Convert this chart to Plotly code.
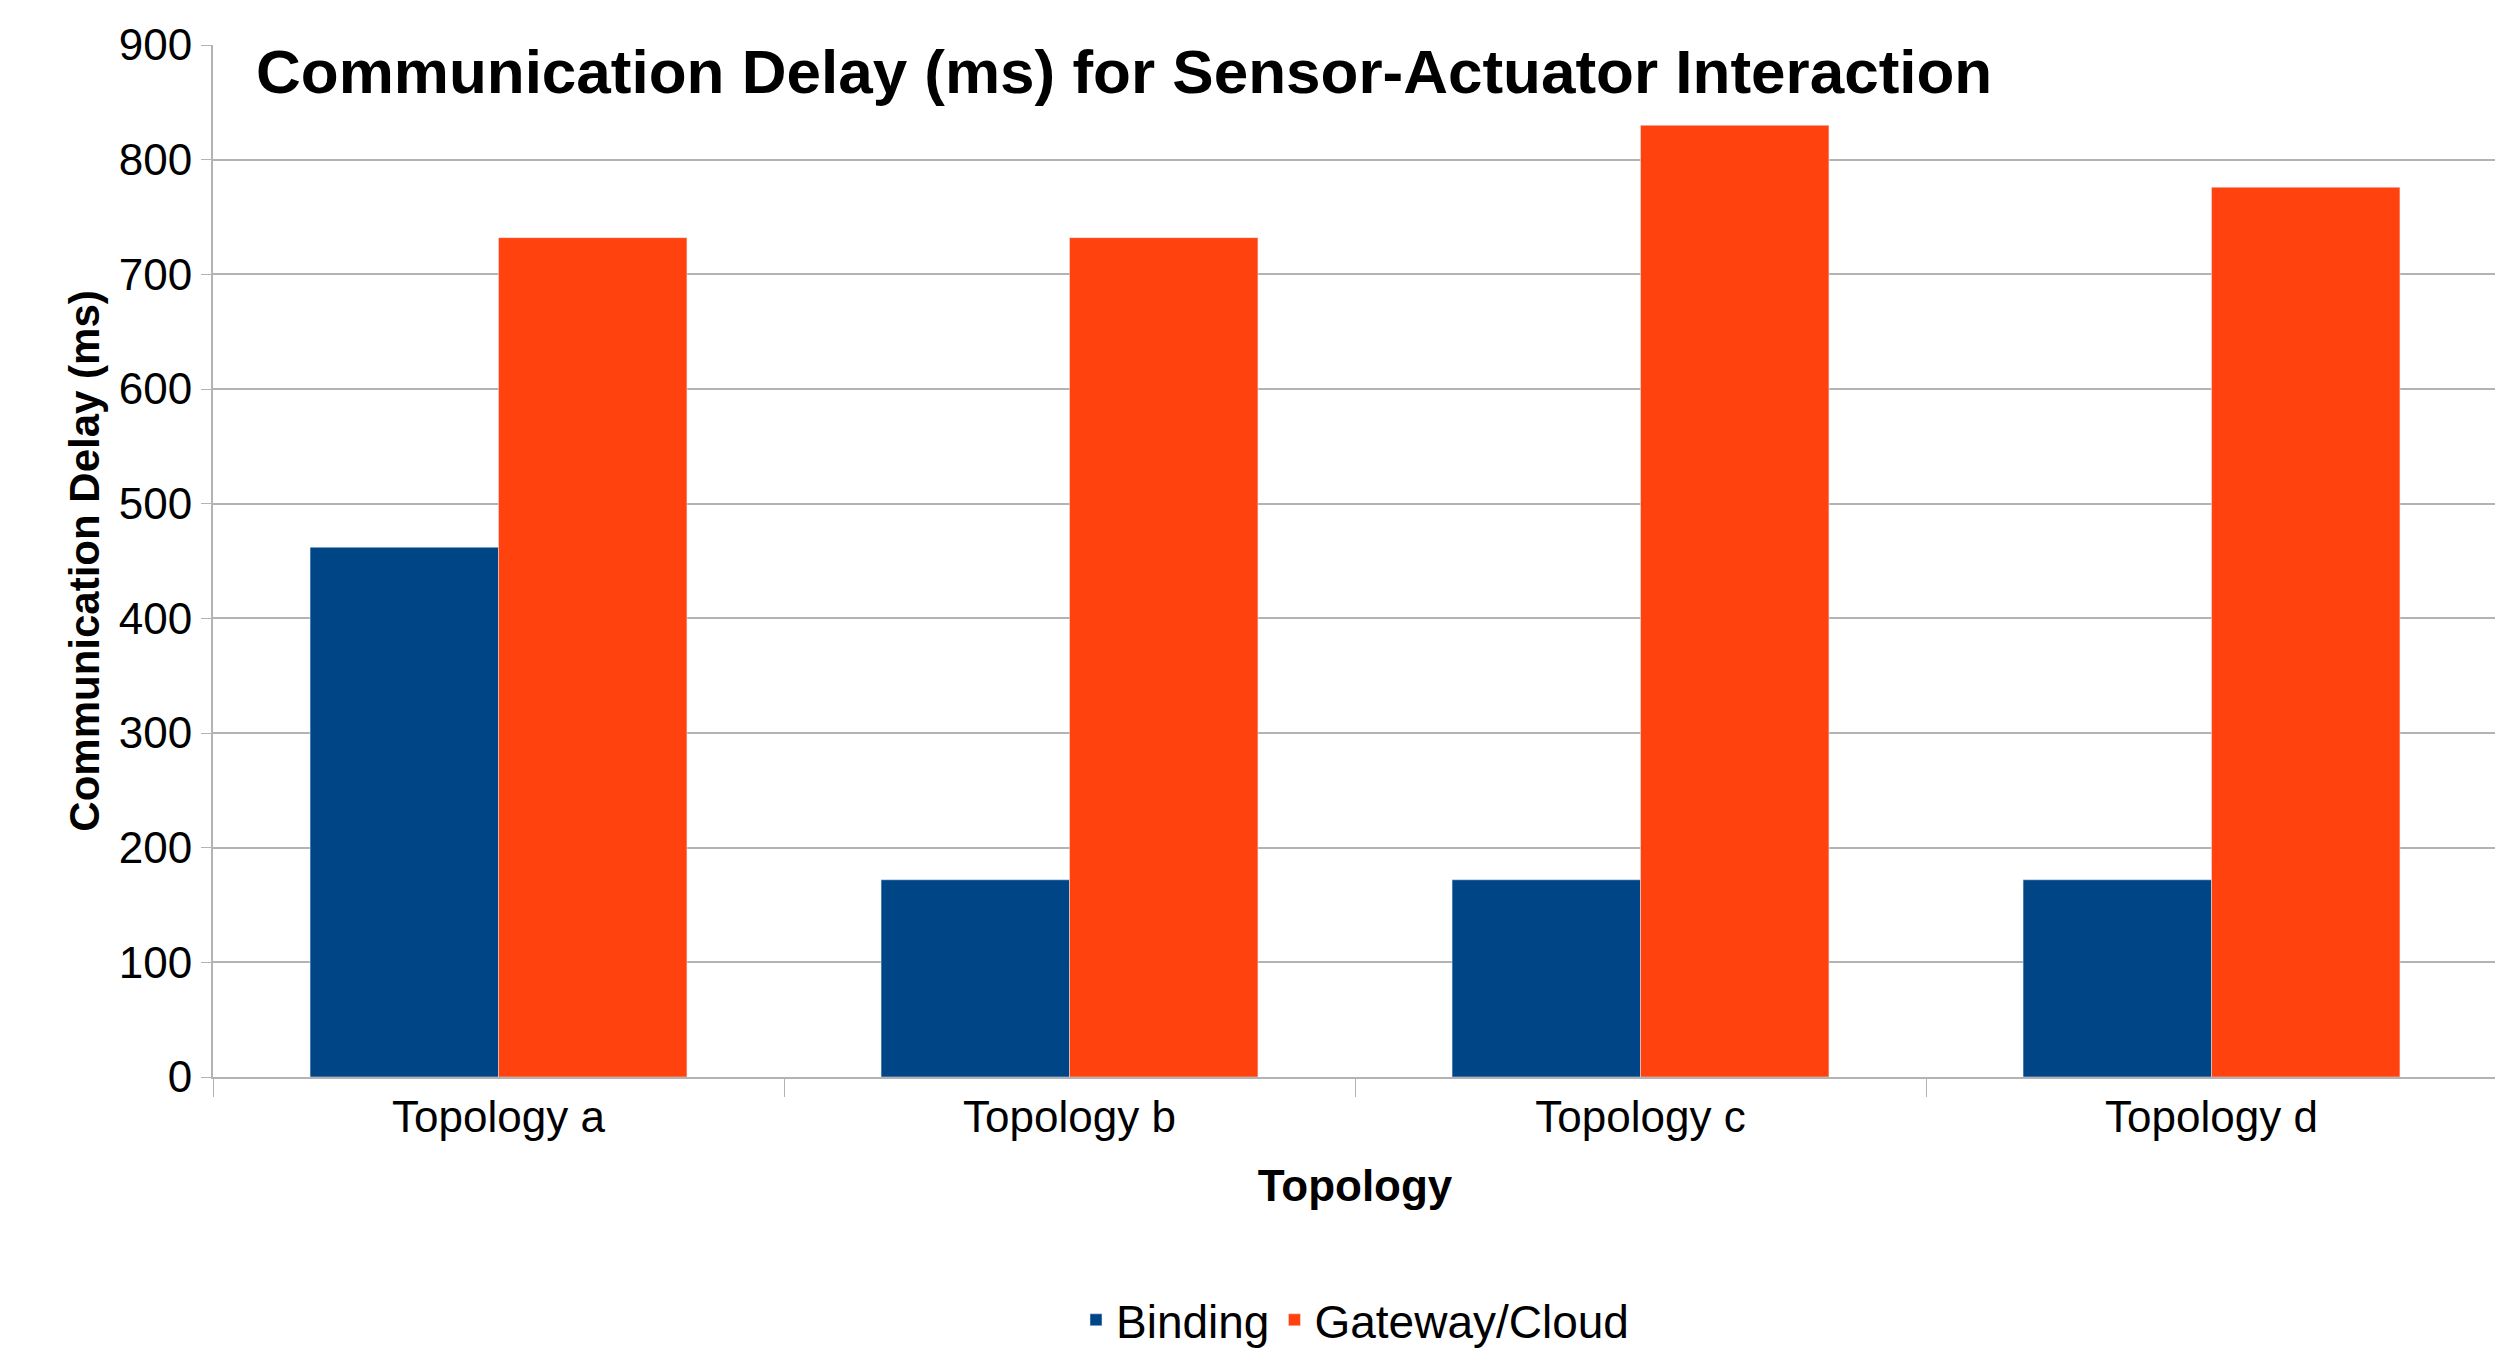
import plotly.graph_objects as go

categories = ["Topology a", "Topology b", "Topology c", "Topology d"]
binding = [462, 172, 172, 172]
gateway = [732, 732, 830, 776]

fig = go.Figure()
fig.add_trace(go.Bar(x=categories, y=binding, name="Binding", marker_color="#004586"))
fig.add_trace(go.Bar(x=categories, y=gateway, name="Gateway/Cloud", marker_color="#FF420E"))

fig.update_layout(
    width=2503, height=1360,
    margin=dict(l=205, r=13, t=35, b=259),
    plot_bgcolor="white", paper_bgcolor="white",
    font=dict(family="Liberation Sans, Arial", color="black"),
    barmode="group", bargap=0.34, bargroupgap=0,
    showlegend=True,
    legend=dict(orientation="h", x=0.5, xanchor="center", y=-0.2, yanchor="top",
                font=dict(size=46), itemwidth=30, tracegroupgap=0),
)
fig.add_annotation(
    text="<b>Communication Delay (ms) for Sensor-Actuator Interaction</b>",
    xref="paper", yref="paper", x=0.018, y=1.01, xanchor="left", yanchor="top",
    showarrow=False, font=dict(size=62, color="black"),
)
fig.update_xaxes(
    title=dict(text="<b>Topology</b>", font=dict(size=44), standoff=30),
    tickfont=dict(size=44), ticks="outside", tickson="boundaries", ticklen=18,
    tickcolor="#b3b3b3", showline=True, linecolor="#b3b3b3", linewidth=2,
)
fig.update_yaxes(
    title=dict(text="<b>Communication Delay (ms)</b>", font=dict(size=42), standoff=6),
    range=[0, 900], dtick=100, tickfont=dict(size=44),
    ticks="outside", ticklen=10, tickcolor="#b3b3b3",
    showgrid=True, gridcolor="#b3b3b3", gridwidth=2,
    showline=True, linecolor="#b3b3b3", linewidth=2, mirror=True, zeroline=False,
)

fig.write_html("out.html")
